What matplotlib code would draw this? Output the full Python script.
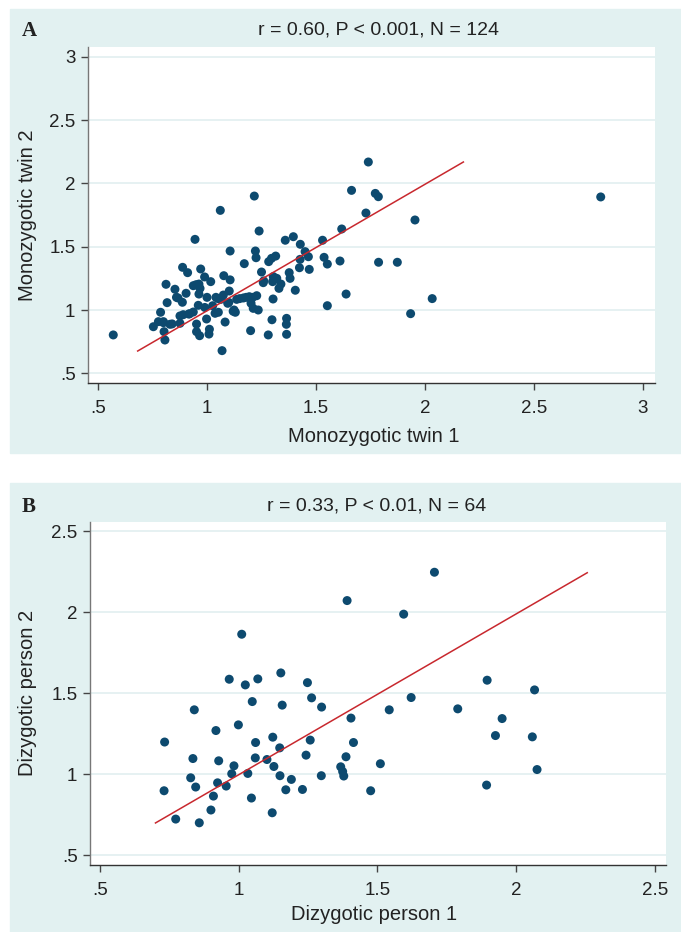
import matplotlib.pyplot as plt
from matplotlib.patches import Rectangle

# ---- data ----
mz_twin1 = [0.570, 0.754, 1.217, 1.061, 1.239, 0.945, 1.359, 1.396, 1.428, 1.450,
            1.465, 1.530, 1.618, 1.663, 1.106, 1.222, 1.225, 1.171, 1.283, 1.296,
            1.315, 1.424, 1.469, 1.537, 1.552, 1.610, 1.638, 1.552, 0.888, 0.911,
            0.971, 0.989, 1.017, 1.077, 1.106, 0.812, 0.853, 0.937, 0.963, 0.968,
            0.963, 0.904, 0.867, 0.887, 0.817, 0.787, 0.960, 1.102, 1.041, 1.063,
            1.095, 1.136, 1.167, 1.194, 1.228, 1.202, 1.212, 1.235, 1.124, 1.130,
            1.037, 1.052, 1.026, 0.937, 0.916, 0.891, 0.876, 0.777, 0.800, 0.830,
            0.876, 0.803, 0.807, 0.998, 0.952, 1.083, 1.011, 1.009, 0.952, 0.966,
            1.069, 1.200, 1.281, 1.298, 1.365, 1.364, 1.365, 1.303, 1.330, 1.339,
            1.304, 1.301, 1.258, 1.250, 1.377, 1.381, 1.405, 1.075, 1.740, 1.772,
            1.786, 2.806, 1.729, 1.954, 1.787, 1.873, 2.033, 1.934, 1.427, 0.920,
            0.990, 1.050, 1.150, 1.210, 0.800, 0.840, 1.000, 1.120, 1.260, 0.950,
            1.100, 1.180, 0.860, 1.320]
mz_twin2 = [0.803, 0.868, 1.900, 1.787, 1.624, 1.558, 1.551, 1.579, 1.519, 1.461,
            1.421, 1.551, 1.640, 1.945, 1.466, 1.466, 1.413, 1.366, 1.382, 1.408,
            1.426, 1.334, 1.321, 1.416, 1.363, 1.387, 1.126, 1.034, 1.337, 1.295,
            1.324, 1.261, 1.224, 1.271, 1.238, 1.203, 1.164, 1.192, 1.205, 1.171,
            1.126, 1.132, 1.095, 1.061, 1.058, 0.982, 1.037, 1.150, 1.100, 1.084,
            1.053, 1.084, 1.095, 1.105, 1.113, 1.053, 1.013, 1.000, 1.000, 0.982,
            0.974, 0.982, 1.034, 0.984, 0.968, 0.963, 0.953, 0.908, 0.908, 0.887,
            0.895, 0.829, 0.763, 0.929, 0.889, 0.905, 0.848, 0.810, 0.829, 0.797,
            0.679, 0.837, 0.803, 0.923, 0.934, 0.887, 0.808, 1.087, 1.171, 1.205,
            1.264, 1.224, 1.216, 1.300, 1.295, 1.250, 1.156, 1.118, 2.169, 1.921,
            1.895, 1.893, 1.766, 1.711, 1.377, 1.377, 1.090, 0.971, 1.400, 0.970,
            1.020, 1.090, 1.090, 1.100, 0.900, 0.890, 1.100, 0.990, 1.230, 1.200,
            1.060, 1.100, 1.100, 1.250]
mz_fit_x = [0.682, 2.176]
mz_fit_y = [0.676, 2.169]

dz_person1 = [1.391, 1.011, 0.966, 1.024, 1.069, 1.152, 1.248, 1.263, 1.299, 1.049,
              1.157, 0.840, 0.999, 0.918, 1.405, 1.543, 0.733, 1.061, 1.123, 1.148,
              1.258, 1.414, 0.835, 0.928, 0.983, 1.060, 1.102, 1.127, 1.243, 1.387,
              1.368, 1.375, 1.379, 1.511, 0.975, 1.033, 1.149, 1.190, 1.298, 0.827,
              0.845, 0.924, 0.955, 0.731, 0.909, 1.046, 1.170, 1.230, 1.476, 0.900,
              1.121, 0.773, 0.858, 1.706, 1.595, 1.896, 2.067, 1.622, 1.790, 1.950,
              1.926, 2.059, 2.076, 1.894]
dz_person2 = [2.072, 1.864, 1.586, 1.551, 1.588, 1.625, 1.565, 1.471, 1.414, 1.448,
              1.426, 1.397, 1.304, 1.269, 1.346, 1.397, 1.198, 1.195, 1.228, 1.162,
              1.210, 1.195, 1.096, 1.082, 1.051, 1.100, 1.090, 1.047, 1.117, 1.107,
              1.045, 1.016, 0.988, 1.064, 1.002, 1.004, 0.990, 0.967, 0.990, 0.977,
              0.920, 0.946, 0.926, 0.897, 0.864, 0.852, 0.903, 0.905, 0.897, 0.778,
              0.761, 0.722, 0.699, 2.247, 1.988, 1.580, 1.520, 1.473, 1.403, 1.343,
              1.238, 1.230, 1.028, 0.932]
dz_fit_x = [0.700, 2.257]
dz_fit_y = [0.698, 2.244]

mz_xticks = [0.5, 1, 1.5, 2, 2.5, 3]
mz_xticklabels = [".5", "1", "1.5", "2", "2.5", "3"]
mz_yticks = [0.5, 1, 1.5, 2, 2.5, 3]
mz_yticklabels = [".5", "1", "1.5", "2", "2.5", "3"]
dz_xticks = [0.5, 1, 1.5, 2, 2.5]
dz_xticklabels = [".5", "1", "1.5", "2", "2.5"]
dz_yticks = [0.5, 1, 1.5, 2, 2.5]
dz_yticklabels = [".5", "1", "1.5", "2", "2.5"]

# ---- style ----
W, H = 681, 932
BG = "#e2f1f1"
GRID = "#e4f0f1"
DOT = "#0d4a6f"
FIT = "#c8282e"
TXT = "#222222"

plt.rcParams.update({
    "font.family": ["Liberation Sans", "DejaVu Sans"],
    "font.size": 13.5,
})

fig = plt.figure(figsize=(W / 100, H / 100), dpi=100)
fig.patch.set_facecolor("white")

# teal panel backgrounds (pixel coords, top-left origin), kept behind the axes
for y0, y1 in [(9, 453), (483, 932)]:
    fig.patches.append(Rectangle((10 / W, 1 - y1 / H), 1 - 10 / W, (y1 - y0) / H,
                                 transform=fig.transFigure, color=BG, zorder=-10))


def px_box(x0, y0, x1, y1):
    return [x0 / W, 1 - y1 / H, (x1 - x0) / W, (y1 - y0) / H]


def panel(box, x, y, fx, fy, xlim, ylim, xt, xtl, yt, ytl):
    ax = fig.add_axes(px_box(*box))
    ax.set_zorder(1)
    ax.set_facecolor("white")
    ax.set_xlim(*xlim)
    ax.set_ylim(*ylim)
    ax.set_xticks(xt, xtl)
    ax.set_yticks(yt, ytl)
    ax.grid(axis="y", color=GRID, lw=1.3)
    ax.set_axisbelow(True)
    for s in ("top", "right"):
        ax.spines[s].set_visible(False)
    ax.spines["left"].set_color("#777777")
    ax.spines["bottom"].set_color("#333333")
    ax.spines["left"].set_linewidth(1.0)
    ax.spines["bottom"].set_linewidth(1.0)
    ax.tick_params(axis="x", length=5, width=1, color="#444", pad=7, labelcolor=TXT)
    ax.tick_params(axis="y", length=5, width=1, color="#444", pad=4, labelcolor=TXT)
    ax.scatter(x, y, s=42, color=DOT, edgecolor="none", zorder=3)
    ax.plot(fx, fy, color=FIT, lw=1.1, zorder=4)
    return ax


panel((88, 47, 655, 383), mz_twin1, mz_twin2, mz_fit_x, mz_fit_y,
      (0.4541, 3.055), (0.4234, 3.0774),
      mz_xticks, mz_xticklabels, mz_yticks, mz_yticklabels)
panel((90, 522, 666, 865), dz_person1, dz_person2, dz_fit_x, dz_fit_y,
      (0.4639, 2.541), (0.4383, 2.5574),
      dz_xticks, dz_xticklabels, dz_yticks, dz_yticklabels)


# panel letters, titles and axis titles
def ftext(xp, yp, s, **kw):
    fig.text(xp / W, 1 - yp / H, s, ha="center", va="center", color=TXT, **kw)


ftext(29, 31, "A", family="Liberation Serif", fontweight="bold", fontsize=15)
ftext(29, 507, "B", family="Liberation Serif", fontweight="bold", fontsize=15)
ftext(378, 30, "r = 0.60, P < 0.001, N = 124", fontsize=14)
ftext(377, 506, "r = 0.33, P < 0.01, N = 64", fontsize=14)
ftext(374, 436, "Monozygotic twin 1", fontsize=14.5)
ftext(374, 914, "Dizygotic person 1", fontsize=14.5)
ftext(28, 215, "Monozygotic twin 2", fontsize=14.5, rotation=90)
ftext(28, 693, "Dizygotic person 2", fontsize=14.5, rotation=90)

fig.savefig("out.png", dpi=100, facecolor="white")
